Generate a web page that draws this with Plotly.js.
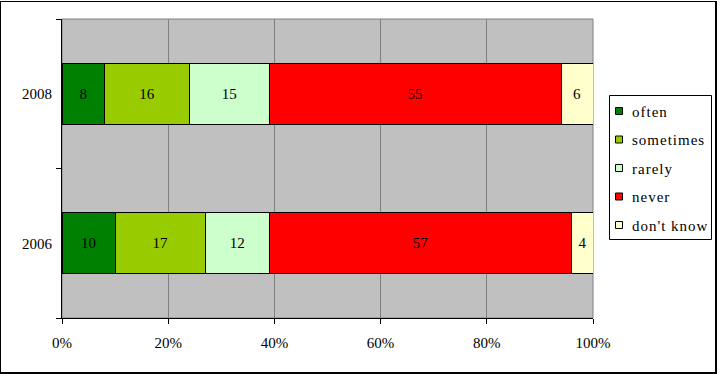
<!DOCTYPE html>
<html>
<head>
<meta charset="utf-8">
<script src="https://cdn.plot.ly/plotly-3.0.1.min.js"></script>
<style>
html,body{margin:0;padding:0;background:#fff;}
#wrap{position:relative;width:720px;height:374px;}
#chart{position:absolute;left:0;top:0;width:720px;height:374px;}
#frame{position:absolute;left:0;top:1px;width:714px;height:370px;border:1px solid #000;border-right-width:2px;border-bottom-width:2px;pointer-events:none;}
.annotation-text{letter-spacing:1px;}
</style>
</head>
<body>
<div id="wrap"><div id="chart"></div><div id="frame"></div></div>
<script>
var years = ['2006', '2008'];
var seriesNames = ['often', 'sometimes', 'rarely', 'never', "don't know"];
var often = [10, 8];
var sometimes = [17, 16];
var rarely = [12, 15];
var never = [57, 55];
var dontKnow = [4, 6];
var xTickVals = [0, 20, 40, 60, 80, 100];
var xTickText = ['0%', '20%', '40%', '60%', '80%', '100%'];

var values = [often, sometimes, rarely, never, dontKnow];
var colors = ['#008000', '#99cc00', '#ccffcc', '#ff0000', '#ffffcc'];
var font = 'Liberation Serif, Times New Roman, serif';

// plot area in pixels
var L = 62, R = 593, T = 19, B = 318;
function px(x){ return (x - L) / (R - L); }
function py(y){ return (B - y) / (B - T); }

var traces = seriesNames.map(function(n, i){
  return {
    type: 'bar', orientation: 'h', name: n,
    y: years, x: values[i],
    marker: {color: colors[i], line: {color: '#000', width: 1}},
    text: values[i].map(String),
    texttemplate: '%{text}',
    textposition: 'inside', insidetextanchor: 'middle',
    textfont: {family: font, size: 15, color: '#000'},
    constraintext: 'none',
    width: 0.41,
    hoverinfo: 'skip',
    showlegend: false
  };
});

// manual legend, Excel style
var shapes = [{
  type: 'rect', xref: 'paper', yref: 'paper', x0: 0, x1: 1, y0: 0, y1: 1,
  line: {color: '#808080', width: 1}, layer: 'below'
}, {
  type: 'rect', xref: 'paper', yref: 'paper',
  x0: px(609.5), x1: px(711.5), y0: py(95.5), y1: py(239.5),
  line: {color: '#000', width: 1}, fillcolor: '#fff', layer: 'above'
}];
var annotations = [];
var itemY0 = 111, itemStep = 28.5;
seriesNames.forEach(function(n, i){
  var cy = itemY0 + i * itemStep;
  shapes.push({
    type: 'rect', xref: 'paper', yref: 'paper',
    x0: px(615.5), x1: px(622.5), y0: py(cy - 3.5), y1: py(cy + 3.5),
    line: {color: '#000', width: 1}, fillcolor: colors[i], layer: 'above'
  });
  annotations.push({
    xref: 'paper', yref: 'paper', x: px(630), y: py(cy + 0.5),
    xanchor: 'left', yanchor: 'middle', showarrow: false,
    text: n, font: {family: font, size: 15, color: '#000'}
  });
});

var layout = {
  width: 720, height: 374,
  margin: {l: L, r: 720 - R, t: T, b: 374 - B, pad: 0},
  paper_bgcolor: '#fff', plot_bgcolor: '#c0c0c0',
  barmode: 'stack',
  font: {family: font, size: 15, color: '#000'},
  showlegend: false,
  xaxis: {
    range: [0, 100], tickvals: xTickVals, ticktext: xTickText,
    showgrid: true, gridcolor: '#808080', gridwidth: 1,
    showline: true, linecolor: '#000', linewidth: 1,
    ticks: 'outside', ticklen: 5, tickcolor: '#000',
    ticklabelstandoff: 6,
    zeroline: false, fixedrange: true,
    tickfont: {family: font, size: 15, color: '#000'}
  },
  yaxis: {
    type: 'category', categoryorder: 'array', categoryarray: years,
    range: [-0.5, 1.5],
    showgrid: false, showline: true, linecolor: '#000', linewidth: 1,
    ticks: 'outside', ticklen: 5, tickcolor: '#000', tickson: 'boundaries',
    ticklabelstandoff: 6,
    tickfont: {family: font, size: 15, color: '#000'}
  },
  shapes: shapes,
  annotations: annotations
};

Plotly.newPlot('chart', traces, layout, {staticPlot: true, displayModeBar: false});
</script>
</body>
</html>
